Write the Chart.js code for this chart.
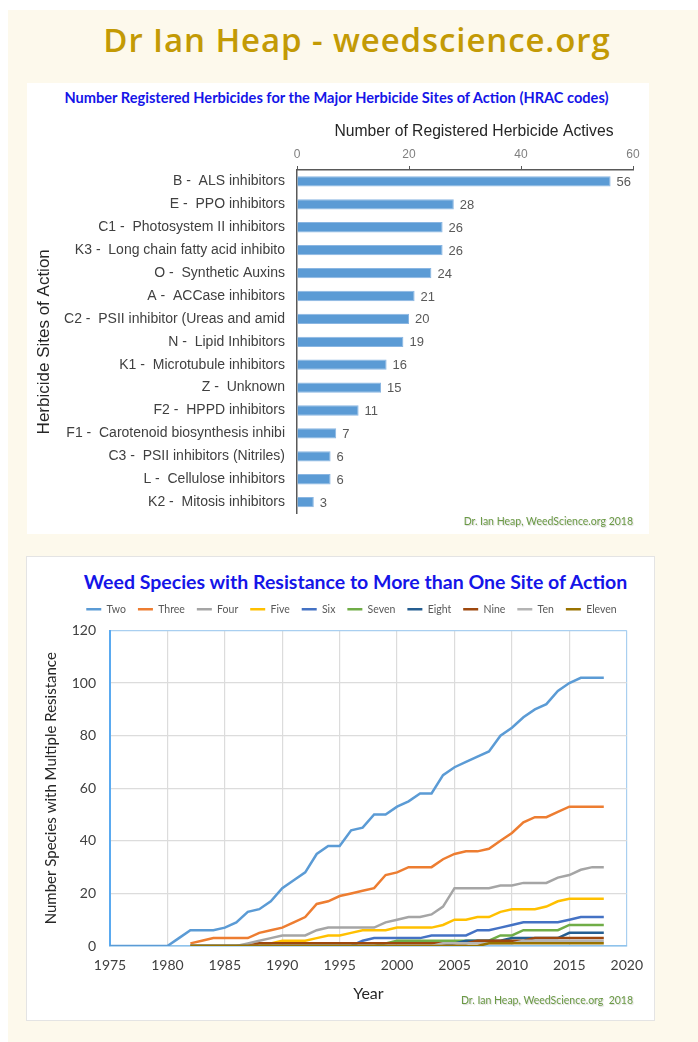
<!DOCTYPE html>
<html><head><meta charset="utf-8">
<script src="https://cdn.jsdelivr.net/npm/chart.js@4.4.1/dist/chart.umd.min.js"></script>
<style>
html,body{margin:0;padding:0;background:#fff;}
body{width:698px;height:1042px;position:relative;overflow:hidden;}
#bg{position:absolute;left:8px;top:10px;width:690px;height:1032px;background:#fdf9ec;}
#head{position:absolute;left:0;width:714px;top:19px;line-height:42px;text-align:center;font-family:'Open Sans';font-weight:600;font-size:33px;letter-spacing:0.9px;color:#c39a05;}
.panel{position:absolute;background:#fff;}
#p1{left:27px;top:83px;width:622px;height:451px;}
#p2{left:27px;top:557px;width:627px;height:463px;box-shadow:0 0 0 1px #e4e4e4;}
.ptitle{position:absolute;left:0;right:0;text-align:center;font-family:'Lato';font-weight:700;color:#1515e8;white-space:nowrap;}
#t1{top:6px;line-height:18px;font-size:14.6px;left:-3px;}
#t2{top:12px;line-height:26px;font-size:19.5px;left:30px;}
.credit{position:absolute;font-family:'Lato';font-size:10.5px;color:#6b9a45;text-shadow:1px 1px 1px #d8d8d8;white-space:pre;line-height:14px;}
#cr1{right:16px;top:431px;}
#cr2{right:21px;top:436px;}
canvas{position:absolute;left:0;}
#c1{top:30px;}
#c2{top:35px;}
</style></head>
<body>
<div id="bg"></div>
<div id="head">Dr Ian Heap - weedscience.org</div>
<div class="panel" id="p1">
  <div class="ptitle" id="t1">Number Registered Herbicides for the Major Herbicide Sites of Action (HRAC codes)</div>
  <canvas id="c1" width="622" height="421"></canvas>
  <div class="credit" id="cr1">Dr. Ian Heap, WeedScience.org 2018</div>
</div>
<div class="panel" id="p2">
  <div class="ptitle" id="t2">Weed Species with Resistance to More than One Site of Action</div>
  <canvas id="c2" width="627" height="428"></canvas>
  <div class="credit" id="cr2">Dr. Ian Heap, WeedScience.org  2018</div>
</div>
<script>
// ---------- Chart 1 data ----------
const sites = [
  'B -  ALS inhibitors',
  'E -  PPO inhibitors',
  'C1 -  Photosystem II inhibitors',
  'K3 -  Long chain fatty acid inhibito',
  'O -  Synthetic Auxins',
  'A -  ACCase inhibitors',
  'C2 -  PSII inhibitor (Ureas and amid',
  'N -  Lipid Inhibitors',
  'K1 -  Microtubule inhibitors',
  'Z -  Unknown',
  'F2 -  HPPD inhibitors',
  'F1 -  Carotenoid biosynthesis inhibi',
  'C3 -  PSII inhibitors (Nitriles)',
  'L -  Cellulose inhibitors',
  'K2 -  Mitosis inhibitors'
];
const actives = [56, 28, 26, 26, 24, 21, 20, 19, 16, 15, 11, 7, 6, 6, 3];
const activeTicks = [0, 20, 40, 60];
const activesTitle = 'Number of Registered Herbicide Actives';

// ---------- Chart 2 data ----------
const years = [1975,1976,1977,1978,1979,1980,1981,1982,1983,1984,1985,1986,1987,1988,1989,1990,
  1991,1992,1993,1994,1995,1996,1997,1998,1999,2000,2001,2002,2003,2004,2005,2006,2007,2008,2009,2010,
  2011,2012,2013,2014,2015,2016,2017,2018];
const yearTicks = [1975, 1980, 1985, 1990, 1995, 2000, 2005, 2010, 2015, 2020];
const countTicks = [0, 20, 40, 60, 80, 100, 120];
const seriesNames = ['Two','Three','Four','Five','Six','Seven','Eight','Nine','Ten','Eleven'];

const two    = [0,0,0,0,0,0,3, 6,6,6,7,9,13,14,17,22, 25,28,35,38,38,44,45,50,50,53, 55,58,58,65,68,70,72,74,80,83, 87,90,92,97,100,102,102,102];
const three  = [null,null,null,null,null,null,null, 1,2,3,3,3,3,5,6,7, 9,11,16,17,19,20,21,22,27,28, 30,30,30,33,35,36,36,37,40,43, 47,49,49,51,53,53,53,53];
const four   = [null,null,null,null,null,null,null, 0,0,0,0,0,1,2,3,4, 4,4,6,7,7,7,7,7,9,10, 11,11,12,15,22,22,22,22,23,23, 24,24,24,26,27,29,30,30];
const five   = [null,null,null,null,null,null,null, 0,0,0,0,0,0,0,1,2, 2,2,3,4,4,5,6,6,6,7, 7,7,7,8,10,10,11,11,13,14, 14,14,15,17,18,18,18,18];
const six    = [null,null,null,null,null,null,null, 0,0,0,0,0,0,0,0,0, 0,0,0,0,0,0,2,3,3,3, 3,3,4,4,4,4,6,6,7,8, 9,9,9,9,10,11,11,11];
const seven  = [null,null,null,null,null,null,null, 0,0,0,0,0,0,0,0,0, 0,0,0,0,0,0,0,0,1,2, 2,2,2,2,2,2,2,2,4,4, 6,6,6,6,8,8,8,8];
const eight  = [null,null,null,null,null,null,null, 0,0,0,0,0,0,0,0,0, 0,0,0,0,0,0,0,0,0,0, 0,0,0,0,1,2,2,2,2,3, 3,3,3,3,5,5,5,5];
const nine   = [null,null,null,null,null,null,null, 0,0,0,0,0,0,1,1,1, 1,1,1,1,1,1,1,1,1,1, 1,1,1,1,1,1,2,2,2,2, 2,3,3,3,3,3,3,3];
const ten    = [null,null,null,null,null,null,null, 0,0,0,0,0,0,0,0,0, 0,0,0,0,0,0,0,0,0,0, 0,0,0,1,1,1,1,1,1,1, 2,2,2,2,2,2,2,2];
const eleven = [null,null,null,null,null,null,null, 0,0,0,0,0,0,0,0,0, 0,0,0,0,0,0,0,0,0,0, 0,0,0,0,0,0,0,1,1,1, 1,1,1,1,1,1,1,1];
const seriesValues = [two, three, four, five, six, seven, eight, nine, ten, eleven];

// ---------- styles ----------
const seriesColors = ['#5b9bd5','#ed7d31','#a5a5a5','#ffc000','#4472c4','#70ad47','#255e91','#9e480e','#b4b4b4','#997300'];

// ---------- Chart 1 ----------
const valueLabels = {
  id: 'valueLabels',
  afterDatasetsDraw(chart) {
    const ctx = chart.ctx;
    const meta = chart.getDatasetMeta(0);
    ctx.save();
    ctx.font = '13px "Liberation Sans"';
    ctx.fillStyle = '#595959';
    ctx.textBaseline = 'middle';
    ctx.textAlign = 'left';
    meta.data.forEach((bar, i) => {
      ctx.fillText(String(chart.data.datasets[0].data[i]), bar.x + 6, bar.y + 1);
    });
    // axis title, placed slightly right of centre as in the original
    const xs = chart.scales.x;
    ctx.font = '15.7px "Liberation Sans"';
    ctx.fillStyle = '#262626';
    ctx.textAlign = 'center';
    ctx.fillText(activesTitle, (xs.left + xs.right) / 2 + 9, xs.top + 19);
    ctx.restore();
  }
};

new Chart(document.getElementById('c1'), {
  type: 'bar',
  data: {
    labels: sites,
    datasets: [{
      data: actives,
      backgroundColor: '#5b9bd5',
      borderColor: '#8ab6e2',
      borderWidth: 1,
      barPercentage: 0.45,
      categoryPercentage: 1
    }]
  },
  options: {
    indexAxis: 'y',
    responsive: false,
    animation: false,
    events: [],
    layout: { padding: { left: 0, top: 0, right: 16, bottom: 18 } },
    plugins: { legend: { display: false }, tooltip: { enabled: false } },
    scales: {
      x: {
        position: 'top',
        min: 0, max: 60,
        afterBuildTicks(s) { s.ticks = activeTicks.map(v => ({ value: v })); },
        afterFit(s) { s.height = 57; },
        ticks: { font: { family: 'Liberation Sans', size: 12 }, color: '#7f7f7f', padding: 4 },
        grid: { display: true, drawOnChartArea: false, drawTicks: true, tickLength: 4, color: '#595959', lineWidth: 1 },
        border: { display: true, color: '#595959', width: 1.5 },
        title: { display: false }
      },
      y: {
        afterFit(s) { s.width = 270; },
        ticks: { font: { family: 'Liberation Sans', size: 14 }, color: '#404040', padding: 12, autoSkip: false },
        grid: { display: false, drawTicks: false },
        border: { display: true, color: '#595959', width: 1.5 },
        title: { display: true, text: 'Herbicide Sites of Action',
          font: { family: 'Liberation Sans', size: 17 }, color: '#262626', padding: { top: 7, bottom: 0 } }
      }
    }
  },
  plugins: [valueLabels]
});

// ---------- Chart 2 ----------
const legendSpacer = {
  id: 'legendSpacer',
  afterInit(chart) {
    const lg = chart.legend;
    if (!lg) return;
    const fit = lg.fit;
    lg.fit = function () { fit.call(this); this.height += 6; };
  },
  afterLayout(chart) {
    const lg = chart.legend;
    if (!lg) return;
    lg.left += 24;
    lg.right += 24;
  }
};

const lineDatasets = seriesNames.map((name, i) => ({
  label: name,
  data: years.map((yr, j) => ({ x: yr, y: seriesValues[i][j] })),
  borderColor: seriesColors[i],
  backgroundColor: seriesColors[i],
  borderWidth: 2.5,
  pointRadius: 0,
  tension: 0,
  order: -i
}));

new Chart(document.getElementById('c2'), {
  type: 'line',
  data: { datasets: lineDatasets },
  options: {
    responsive: false,
    animation: false,
    events: [],
    layout: { padding: { top: 0, right: 26, bottom: 0, left: 0 } },
    plugins: {
      tooltip: { enabled: false },
      legend: {
        display: true, position: 'top',
        labels: {
          usePointStyle: true, pointStyle: 'line', pointStyleWidth: 15,
          font: { family: 'Lato', size: 10.5 }, color: '#595959', padding: 12,
          sort: (a, b) => a.datasetIndex - b.datasetIndex
        }
      }
    },
    scales: {
      x: {
        type: 'linear', min: 1975, max: 2020,
        afterBuildTicks(s) { s.ticks = yearTicks.map(v => ({ value: v })); },
        afterFit(s) { s.height = 74; },
        ticks: { font: { family: 'Lato', size: 14 }, color: '#404040', padding: 11, callback: v => String(v) },
        grid: {
          color: c => (c.tick && c.tick.value === 2020) ? '#a9cff0' : (c.tick && c.tick.value === 1975 ? '#5aaaf0' : '#dcdcdc'),
          lineWidth: 1.2, drawTicks: false
        },
        border: { color: '#8fc3ec', width: 1.5 },
        title: { display: true, text: 'Year', font: { family: 'Lato', size: 16 }, color: '#262626', padding: { top: 0, bottom: 17 } }
      },
      y: {
        min: 0, max: 120,
        afterBuildTicks(s) { s.ticks = countTicks.map(v => ({ value: v })); },
        afterFit(s) { s.width = 83; },
        ticks: { font: { family: 'Lato', size: 14 }, color: '#404040', padding: 14, callback: v => String(v) },
        grid: {
          color: c => (c.tick && c.tick.value === 120) ? '#a9cff0' : (c.tick && c.tick.value === 0 ? '#8fc3ec' : '#dcdcdc'),
          lineWidth: 1.2, drawTicks: false
        },
        border: { color: '#5aaaf0', width: 2 },
        title: { display: true, text: 'Number Species with Multiple Resistance',
          font: { family: 'Lato', size: 15 }, color: '#262626', padding: { top: 15, bottom: 0 } }
      }
    }
  },
  plugins: [legendSpacer]
});
</script>
</body></html>
